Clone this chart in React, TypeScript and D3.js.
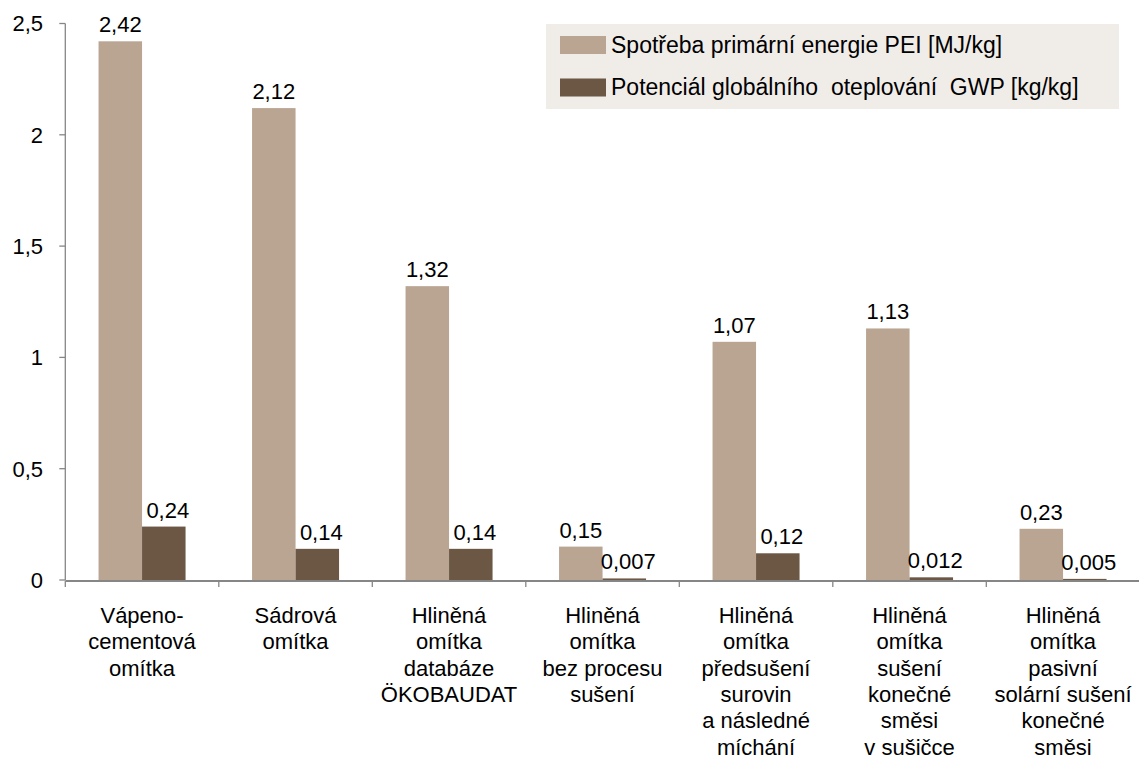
import React from "react";
import * as d3 from "d3";

const categories: string[][] = [
  ["Vápeno-", "cementová", "omítka"],
  ["Sádrová", "omítka"],
  ["Hliněná", "omítka", "databáze", "ÖKOBAUDAT"],
  ["Hliněná", "omítka", "bez procesu", "sušení"],
  ["Hliněná", "omítka", "předsušení", "surovin", "a následné", "míchání"],
  ["Hliněná", "omítka", "sušení", "konečné", "směsi", "v sušičce"],
  ["Hliněná", "omítka", "pasivní", "solární sušení", "konečné", "směsi"],
];
const peiValues = [2.42, 2.12, 1.32, 0.15, 1.07, 1.13, 0.23];
const gwpValues = [0.24, 0.14, 0.14, 0.007, 0.12, 0.012, 0.005];
const seriesNames = [
  "Spotřeba primární energie PEI [MJ/kg]",
  "Potenciál globálního  oteplování  GWP [kg/kg]",
];
const yTicks = [0, 0.5, 1, 1.5, 2, 2.5];

const W = 1139;
const H = 760;
const plot = { left: 65.3, right: 1139.8, top: 23.5, bottom: 580 };
const colors = ["#b9a591", "#6b5744"];
const axisColor = "#868686";
const font = "'Liberation Sans', Arial, sans-serif";
const fs = 22;
const groupWidth = 87;

const fmt = (v: number) => String(v).replace(".", ",");

export default function App() {
  const idx = categories.map((_, i) => String(i));
  const x = d3.scaleBand<string>().domain(idx).range([plot.left, plot.right]).paddingInner(0).paddingOuter(0);
  const y = d3.scaleLinear().domain([0, 2.5]).range([plot.bottom, plot.top]);
  const bw = x.bandwidth();
  const sub = d3
    .scaleBand<string>()
    .domain(["pei", "gwp"])
    .range([(bw - groupWidth) / 2, (bw + groupWidth) / 2])
    .padding(0);
  const series = [
    { key: "pei", values: peiValues, color: colors[0], dx: 0 },
    { key: "gwp", values: gwpValues, color: colors[1], dx: 4 },
  ];

  return (
    <svg
      width={W}
      height={H}
      style={{ position: "absolute", left: 0, top: 0, background: "#fff" }}
      fontFamily={font}
    >
      {series.map((s) =>
        s.values.map((v, i) => (
          <rect
            key={s.key + i}
            x={(x(String(i)) as number) + (sub(s.key) as number)}
            y={y(v)}
            width={sub.bandwidth()}
            height={y(0) - y(v)}
            fill={s.color}
          />
        ))
      )}
      {series.map((s) =>
        s.values.map((v, i) => (
          <text
            key={"l" + s.key + i}
            x={(x(String(i)) as number) + (sub(s.key) as number) + sub.bandwidth() / 2 + s.dx}
            y={y(v) - 9}
            textAnchor="middle"
            fontSize={fs}
            fill="#000"
          >
            {fmt(v)}
          </text>
        ))
      )}
      <line x1={plot.left} x2={plot.left} y1={plot.top} y2={plot.bottom} stroke={axisColor} strokeWidth={1.3} />
      {yTicks.map((t) => (
        <g key={"yt" + t}>
          <line x1={plot.left - 6} x2={plot.left} y1={y(t)} y2={y(t)} stroke={axisColor} strokeWidth={1.3} />
          <text x={43} y={y(t)} dy="0.36em" textAnchor="end" fontSize={fs} fill="#000">
            {fmt(t)}
          </text>
        </g>
      ))}
      <line x1={plot.left} x2={plot.right} y1={plot.bottom + 1} y2={plot.bottom + 1} stroke={axisColor} strokeWidth={2} />
      {idx.map((k, i) => {
        const xx = x(k) as number;
        return (
          <line key={"xt" + i} x1={xx} x2={xx} y1={plot.bottom + 1} y2={plot.bottom + 7} stroke={axisColor} strokeWidth={1.3} />
        );
      })}
      {categories.map((lines, i) => {
        const cx = (x(String(i)) as number) + bw / 2;
        return (
          <text key={"c" + i} x={cx} y={623} textAnchor="middle" fontSize={fs} fill="#000">
            {lines.map((ln, j) => (
              <tspan key={j} x={cx} dy={j === 0 ? 0 : 26.3}>
                {ln}
              </tspan>
            ))}
          </text>
        );
      })}
      <rect x={546} y={24} width={573} height={85} fill="#f0ede9" />
      {seriesNames.map((n, i) => (
        <g key={"lg" + i}>
          <rect x={560} y={36 + i * 42.5} width={46} height={18} fill={colors[i]} />
          <text x={611} y={52.5 + i * 42.5} fontSize={23} fill="#000" style={{ whiteSpace: "pre" }}>
            {n}
          </text>
        </g>
      ))}
    </svg>
  );
}
